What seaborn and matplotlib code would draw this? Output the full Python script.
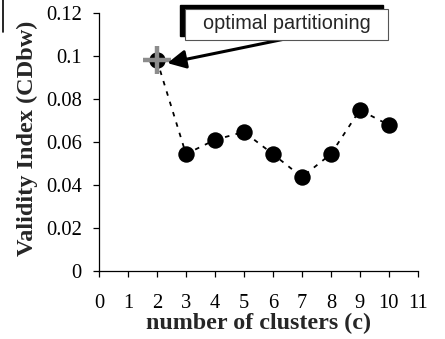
import matplotlib
matplotlib.use("Agg")
import matplotlib.pyplot as plt
import seaborn as sns
import pandas as pd
from matplotlib.patches import Rectangle, FancyArrowPatch
from matplotlib.lines import Line2D

# ---- data ----
clusters = [2, 3, 4, 5, 6, 7, 8, 9, 10]
cdbw = [0.098, 0.0544, 0.061, 0.0647, 0.0544, 0.0437, 0.0544, 0.0749, 0.0679]
optimal_c = [2]
optimal_val = [0.098]
x_ticks = list(range(0, 12))
y_ticks = [0, 0.02, 0.04, 0.06, 0.08, 0.1, 0.12]
y_tick_labels = ["0", "0.02", "0.04", "0.06", "0.08", "0.1", "0.12"]
x_label = "number of clusters (c)"
y_label = "Validity Index (CDbw)"
note = "optimal partitioning"

df = pd.DataFrame({"c": clusters, "v": cdbw})

sns.set_style("white")
plt.rcParams["font.family"] = ["Liberation Serif", "DejaVu Serif"]

fig = plt.figure(figsize=(4.45, 3.39), dpi=100)
ax = fig.add_axes([0.2225, 0.2006, 0.7165, 0.761])

sns.lineplot(data=df, x="c", y="v", ax=ax, color="black",
             linestyle=(0, (2.5, 3.5)), linewidth=1.3)
sns.scatterplot(data=df, x="c", y="v", ax=ax, color="black", s=140,
                edgecolor="black", linewidth=0, zorder=3)
sns.scatterplot(x=optimal_c, y=optimal_val, ax=ax, marker="+", s=420,
                color="#8c8c8c", linewidth=3.2, zorder=4)

ax.set_xlim(0, 11)
ax.set_ylim(0, 0.12)
ax.set_xticks(x_ticks)
ax.set_xticklabels([str(t) for t in x_ticks])
ax.set_yticks(y_ticks)
ax.set_yticklabels(y_tick_labels)

for s in ["top", "right"]:
    ax.spines[s].set_visible(False)
for s in ["left", "bottom"]:
    ax.spines[s].set_color("black")
    ax.spines[s].set_linewidth(0.9)

ax.tick_params(axis="x", direction="out", length=4.5, width=0.9,
               pad=12, labelsize=14.8, colors="black", bottom=True)
ax.tick_params(axis="y", direction="out", length=4.5, width=0.9,
               pad=8, labelsize=14.8, colors="black", left=True)

ax.set_xlabel(x_label, fontsize=17.3, fontweight="bold")
ax.set_ylabel(y_label, fontsize=17.5, fontweight="bold")
ax.xaxis.set_label_coords(0.50, -0.205)
ax.xaxis.label.set_va("center")
ax.yaxis.set_label_coords(-0.225, 0.515)
ax.yaxis.label.set_va("center")

# annotation box with shadow
bx0, bx1 = 2.97, 9.97
by0, by1 = 0.1074, 0.1219
dx, dy = -0.17, 0.0019
shadow = Rectangle((bx0 + dx, by0 + dy), bx1 - bx0, by1 - by0,
                   facecolor="black", edgecolor="black", clip_on=False, zorder=5)
box = Rectangle((bx0, by0), bx1 - bx0, by1 - by0, facecolor="white",
                edgecolor="#555555", linewidth=0.8, clip_on=False, zorder=6)
ax.add_patch(shadow)
ax.add_patch(box)
ax.text((bx0 + bx1) / 2, (by0 + by1) / 2 + 0.0003, note,
        family=["Liberation Sans", "DejaVu Sans"], fontsize=14.3,
        ha="center", va="center", zorder=7)

arrow = FancyArrowPatch((6.59, 0.1084), (2.36, 0.0967),
                        arrowstyle="-|>,head_length=0.55,head_width=0.28",
                        mutation_scale=20, color="black", linewidth=2.2,
                        clip_on=False, zorder=4, shrinkA=0, shrinkB=0)
ax.add_patch(arrow)

# thin vertical line at the top-left edge (as in the reference crop)
fig.add_artist(Line2D([3.2 / 445, 3.2 / 445], [1.0, 1 - 32 / 339],
                      color="black", linewidth=1.2, transform=fig.transFigure))

fig.savefig("out.png", dpi=100)
